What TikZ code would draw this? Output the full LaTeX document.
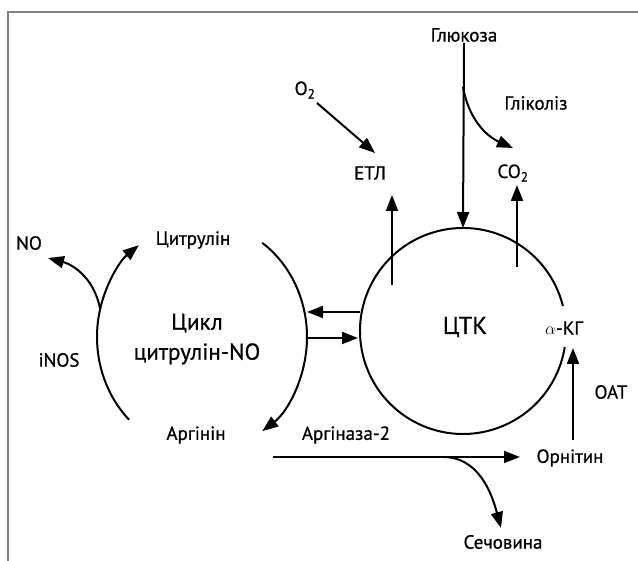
\documentclass[tikz,border=0pt]{standalone}
\usepackage{fontspec}
\setmainfont[FakeBold=0.7]{PT Sans}
\usetikzlibrary{arrows.meta}

\begin{document}
\begin{tikzpicture}[x=1pt,y=1pt,
    lbl/.style={font=\fontsize{19}{22}\selectfont,inner sep=1pt},
    big/.style={font=\fontsize{23}{30}\selectfont,align=center,inner sep=1pt},
    arr/.style={-{Triangle[length=16pt,width=12pt]},line width=2pt},
    ring/.style={line width=2pt}]
  \useasboundingbox (0,0) rectangle (638,561);
  \draw[gray,line width=1.5pt] (8,0) -- (8,549) -- (638,549);

  % labels
  \node[lbl] (gluc) at (464,526) {Глюкоза};
  \node[lbl] (glyc) at (536,458) {Гліколіз};
  \node[lbl] (o2) at (305,471) {O\textsubscript{2}};
  \node[lbl] (etl) at (370,388) {ЕТЛ};
  \node[lbl] (co2) at (513,388) {CO\textsubscript{2}};
  \node[lbl] (cit) at (193,321) {Цитрулін};
  \node[lbl] (no) at (29,318) {NO};
  \node[big] (cycle) at (197,222) {Цикл\\цитрулін-NO};
  \node[lbl,font=\fontsize{24.5}{30}\selectfont] (tca) at (465,234) {ЦТК};
  \node[lbl] (akg) at (564,233) {$\alpha$-КГ};
  \node[lbl] (inos) at (59,201) {iNOS};
  \node[lbl] (oat) at (611,169) {OAT};
  \node[lbl] (arg) at (196,126) {Аргінін};
  \node[lbl] (arginase) at (346,126) {Аргіназа-2};
  \node[lbl] (orn) at (570,103) {Орнітин};
  \node[lbl] (urea) at (503,19) {Сечовина};

  % cycles
  \coordinate (tcac) at (463,230);
  \coordinate (cyc) at (202,224);
  \draw[ring] (tcac) ++(14:103) arc[start angle=14,end angle=351,radius=103];
  \draw[arr] (cyc) ++(226:105 and 115) arc[start angle=226,end angle=127,x radius=105,y radius=115];
  \draw[arr] (cyc) ++(55:105 and 115) arc[start angle=55,end angle=-55,x radius=105,y radius=115];

  % free ends
  \path (tcac) ++(90:103) coordinate (tcatop);
  \path (cyc) ++(166:105 and 115) coordinate (nojoin);
  \coordinate (notip) at (48,303);
  \coordinate (o2tip) at (375,408);
  \coordinate (o2start) at (317,458);
  \coordinate (glystart) at (463,474);
  \coordinate (glytip) at (513,413);
  \coordinate (etlstart) at (392,276);
  \coordinate (etltip) at (392,366);
  \coordinate (co2start) at (517,294);
  \coordinate (co2tip) at (517,376);
  \coordinate (tcaout) at (360,249);
  \coordinate (cycin) at (307,249);
  \coordinate (cycout) at (308,223);
  \coordinate (tcain) at (358,223);
  \coordinate (argstart) at (273,104);
  \coordinate (orntip) at (520,104);
  \coordinate (ureastart) at (443,104);
  \coordinate (ureatip) at (501,33);
  \coordinate (oatstart) at (573,121);
  \coordinate (oattip) at (573,213);

  % connectors
  \draw[arr] (gluc.south) -- (tcatop);
  \draw[arr] (glystart) to[out=-80,in=156] (glytip);
  \draw[arr] (o2start) -- (o2tip);
  \draw[arr] (etlstart) -- (etltip);
  \draw[arr] (co2start) -- (co2tip);
  \draw[arr] (nojoin) to[out=100,in=-15] (notip);
  \draw[arr] (tcaout) -- (cycin);
  \draw[arr] (cycout) -- (tcain);
  \draw[arr] (argstart) -- (orntip);
  \draw[arr] (ureastart) to[out=0,in=105] (ureatip);
  \draw[arr] (oatstart) -- (oattip);
\end{tikzpicture}
\end{document}
